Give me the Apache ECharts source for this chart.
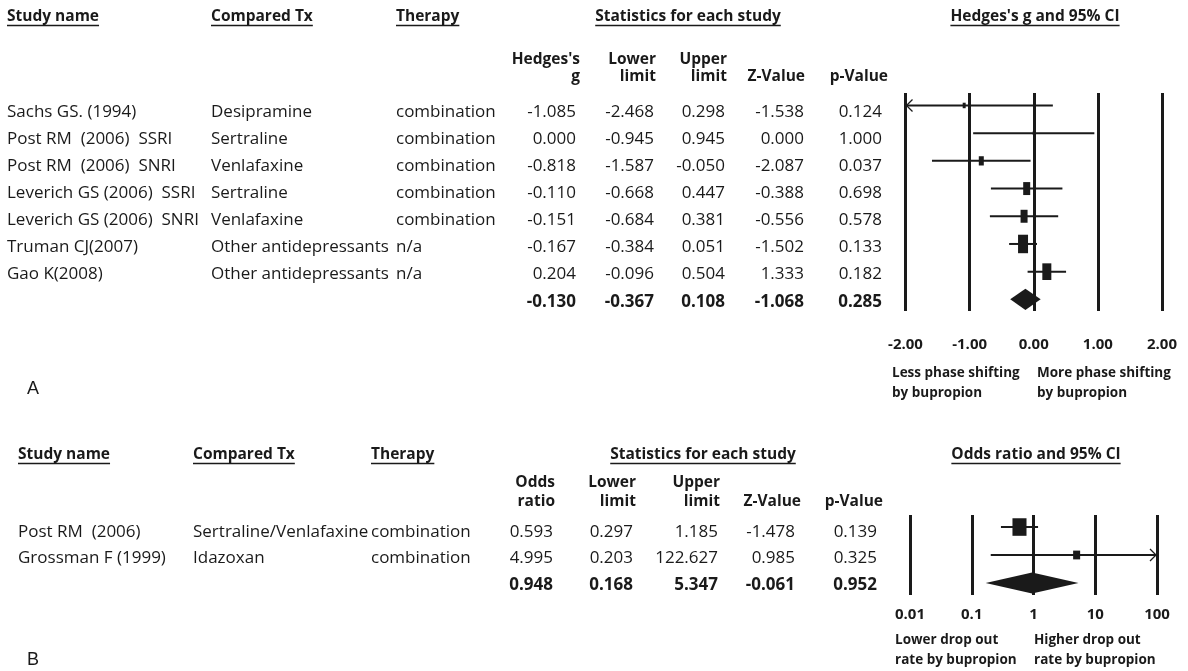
<!DOCTYPE html>
<html>
<head>
<meta charset="utf-8">
<script src="https://cdn.jsdelivr.net/npm/echarts@6/dist/echarts.min.js"></script>
<style>
  html, body { margin: 0; padding: 0; background: #fff; }
  #chart { width: 1188px; height: 671px; }
</style>
</head>
<body>
<div id="chart"></div>
<script>
// ---------- Panel A: phase shifting, Hedges's g ----------
const studiesA = ['Sachs GS. (1994)', 'Post RM  (2006)  SSRI', 'Post RM  (2006)  SNRI',
  'Leverich GS (2006)  SSRI', 'Leverich GS (2006)  SNRI', 'Truman CJ(2007)', 'Gao K(2008)'];
const comparedA = ['Desipramine', 'Sertraline', 'Venlafaxine', 'Sertraline', 'Venlafaxine',
  'Other antidepressants', 'Other antidepressants'];
const therapyA = ['combination', 'combination', 'combination', 'combination', 'combination', 'n/a', 'n/a'];
const hedgesA = [-1.085, 0.000, -0.818, -0.110, -0.151, -0.167, 0.204];
const lowerA = [-2.468, -0.945, -1.587, -0.668, -0.684, -0.384, -0.096];
const upperA = [0.298, 0.945, -0.050, 0.447, 0.381, 0.051, 0.504];
const zValueA = [-1.538, 0.000, -2.087, -0.388, -0.556, -1.502, 1.333];
const pValueA = [0.124, 1.000, 0.037, 0.698, 0.578, 0.133, 0.182];
const weightA = [2.8, 1.3, 7.9, 15.5, 15.5, 31.5, 25.6];       // relative weight, %
const summaryA = [-0.130, -0.367, 0.108, -1.068, 0.285];        // g, lower, upper, Z, p
const ticksA = ['-2.00', '-1.00', '0.00', '1.00', '2.00'];

// ---------- Panel B: drop out, odds ratio ----------
const studiesB = ['Post RM  (2006)', 'Grossman F (1999)'];
const comparedB = ['Sertraline/Venlafaxine', 'Idazoxan'];
const therapyB = ['combination', 'combination'];
const oddsB = [0.593, 4.995];
const lowerB = [0.297, 0.203];
const upperB = [1.185, 122.627];
const zValueB = [-1.478, 0.985];
const pValueB = [0.139, 0.325];
const weightB = [80, 20];                                       // relative weight, %
const summaryB = [0.948, 0.168, 5.347, -0.061, 0.952];          // OR, lower, upper, Z, p
const ticksB = ['0.01', '0.1', '1', '10', '100'];

const FAMILY = '"Open Sans", "Noto Sans", sans-serif';
const INK = '#1a1a1a';
const fmt3 = v => v.toFixed(3);

const measureCtx = document.createElement('canvas').getContext('2d');
function textWidth(str, font) { measureCtx.font = font; return measureCtx.measureText(str).width; }

// ---------- table text drawn on a flat (pixel-unit) x axis, rows on y ----------
function tableSeries(cells, gridIdx) {
  return {
    type: 'custom', xAxisIndex: gridIdx, yAxisIndex: gridIdx, silent: true, clip: false,
    data: cells.map(c => [c.x, c.row]),
    renderItem(params, api) {
      const c = cells[params.dataIndex];
      const p = api.coord([api.value(0), api.value(1)]);
      return {
        type: 'text', x: p[0], y: p[1],
        style: {
          text: c.text, fill: INK, align: c.align, textAlign: c.align,
          verticalAlign: 'middle', textVerticalAlign: 'middle',
          font: (c.bold ? 'bold ' : '') + '17px ' + FAMILY
        }
      };
    }
  };
}

function buildCells(cols, rows, summary) {
  const cells = [];
  rows.forEach((r, i) => {
    cols.forEach((col, j) => cells.push({ x: col.x, row: i, text: r[j], align: col.align, bold: false }));
  });
  summary.forEach((v, j) => {
    const col = cols[3 + j];
    cells.push({ x: col.x, row: rows.length, text: fmt3(v), align: col.align, bold: true });
  });
  return cells;
}

const colsA = [
  { x: 7, align: 'left' }, { x: 211, align: 'left' }, { x: 396, align: 'left' },
  { x: 576, align: 'right' }, { x: 654, align: 'right' }, { x: 725, align: 'right' },
  { x: 804, align: 'right' }, { x: 882, align: 'right' }
];
const colsB = [
  { x: 18, align: 'left' }, { x: 193, align: 'left' }, { x: 371, align: 'left' },
  { x: 553, align: 'right' }, { x: 633, align: 'right' }, { x: 718, align: 'right' },
  { x: 795, align: 'right' }, { x: 877, align: 'right' }
];
const rowsA = studiesA.map((s, i) => [s, comparedA[i], therapyA[i], fmt3(hedgesA[i]),
  fmt3(lowerA[i]), fmt3(upperA[i]), fmt3(zValueA[i]), fmt3(pValueA[i])]);
const rowsB = studiesB.map((s, i) => [s, comparedB[i], therapyB[i], fmt3(oddsB[i]),
  fmt3(lowerB[i]), fmt3(upperB[i]), fmt3(zValueB[i]), fmt3(pValueB[i])]);

// ---------- forest marks: CI line, weighted box, arrow when the CI runs off the scale ----------
function forestSeries(est, lo, hi, weight, axisMin, axisMax, boxScale, boxAspect, gridIdx) {
  return {
    type: 'custom', xAxisIndex: gridIdx, yAxisIndex: gridIdx, silent: true, clip: false,
    data: est.map((e, i) => [e, lo[i], hi[i], i, weight[i]]),
    encode: { x: [0, 1, 2], y: 3 },
    renderItem(params, api) {
      const e = api.value(0), l = api.value(1), h = api.value(2), r = api.value(3), w = api.value(4);
      const a = api.coord([Math.max(l, axisMin), r]);
      const b = api.coord([Math.min(h, axisMax), r]);
      const m = api.coord([e, r]);
      const bw = boxScale * Math.sqrt(w), bh = bw * boxAspect;
      const children = [
        { type: 'line', shape: { x1: a[0], y1: a[1], x2: b[0], y2: b[1] }, style: { stroke: INK, lineWidth: 2 } },
        { type: 'rect', shape: { x: m[0] - bw / 2, y: m[1] - bh / 2, width: bw, height: bh }, style: { fill: INK } }
      ];
      if (l < axisMin) {
        children.push({ type: 'polyline', shape: { points: [[a[0] + 7, a[1] - 6], [a[0] + 1, a[1]], [a[0] + 7, a[1] + 6]] },
          style: { stroke: INK, lineWidth: 1.3, fill: null } });
      }
      if (h > axisMax) {
        children.push({ type: 'polyline', shape: { points: [[b[0] - 7, b[1] - 6], [b[0] - 1, b[1]], [b[0] - 7, b[1] + 6]] },
          style: { stroke: INK, lineWidth: 1.3, fill: null } });
      }
      return { type: 'group', children };
    }
  };
}

function diamondSeries(summary, row, halfHeight, gridIdx) {
  return {
    type: 'custom', xAxisIndex: gridIdx, yAxisIndex: gridIdx, silent: true, clip: false,
    data: [[summary[0], summary[1], summary[2], row]],
    encode: { x: [0, 1, 2], y: 3 },
    renderItem(params, api) {
      const r = api.value(3);
      const c = api.coord([api.value(0), r]);
      const l = api.coord([api.value(1), r]);
      const h = api.coord([api.value(2), r]);
      return {
        type: 'polygon',
        shape: { points: [[l[0], c[1]], [c[0], c[1] - halfHeight], [h[0], c[1]], [c[0], c[1] + halfHeight]] },
        style: { fill: INK }
      };
    }
  };
}

// ---------- headers, notes, panel letters ----------
const graphics = [];
function addText(text, x, y, align, size, weight, underline, family) {
  const font = (weight ? weight + ' ' : '') + size + 'px ' + (family || FAMILY);
  graphics.push({
    type: 'text', x, y, silent: true,
    style: { text, font, fill: INK, align, textAlign: align, verticalAlign: 'middle', textVerticalAlign: 'middle' }
  });
  if (underline) {
    const w = textWidth(text, font);
    const left = align === 'left' ? x : align === 'center' ? x - w / 2 : x - w;
    graphics.push({ type: 'line', silent: true, shape: { x1: left, y1: y + 8.5, x2: left + w, y2: y + 8.5 },
      style: { stroke: INK, lineWidth: 1.5 } });
  }
}

const HEAD = 15.5, NOTE = 13.5;
// Panel A headings
addText('Study name', 7, 17, 'left', HEAD, 'bold', true);
addText('Compared Tx', 211, 17, 'left', HEAD, 'bold', true);
addText('Therapy', 396, 17, 'left', HEAD, 'bold', true);
addText('Statistics for each study', 688, 17, 'center', HEAD, 'bold', true);
addText("Hedges's g and 95% CI", 1035, 17, 'center', HEAD, 'bold', true);
const subHeadA = [["Hedges's", 'g', 580], ['Lower', 'limit', 656], ['Upper', 'limit', 727], ['', 'Z-Value', 805], ['', 'p-Value', 888]];
subHeadA.forEach(([t1, t2, x]) => {
  if (t1) addText(t1, x, 60, 'right', HEAD, 'bold');
  addText(t2, x, 77, 'right', HEAD, 'bold');
});
addText('Less phase shifting', 892, 373, 'left', NOTE, 'bold');
addText('by bupropion', 892, 393, 'left', NOTE, 'bold');
addText('More phase shifting', 1037, 373, 'left', NOTE, 'bold');
addText('by bupropion', 1037, 393, 'left', NOTE, 'bold');
addText('A', 27, 389, 'left', 18, '', false, '"Liberation Sans", Arial, sans-serif');

// Panel B headings
addText('Study name', 18, 455, 'left', HEAD, 'bold', true);
addText('Compared Tx', 193, 455, 'left', HEAD, 'bold', true);
addText('Therapy', 371, 455, 'left', HEAD, 'bold', true);
addText('Statistics for each study', 703, 455, 'center', HEAD, 'bold', true);
addText('Odds ratio and 95% CI', 1036, 455, 'center', HEAD, 'bold', true);
const subHeadB = [['Odds', 'ratio', 555], ['Lower', 'limit', 636], ['Upper', 'limit', 720], ['', 'Z-Value', 801], ['', 'p-Value', 883]];
subHeadB.forEach(([t1, t2, x]) => {
  if (t1) addText(t1, x, 483, 'right', HEAD, 'bold');
  addText(t2, x, 502, 'right', HEAD, 'bold');
});
addText('Lower drop out', 895, 640, 'left', NOTE, 'bold');
addText('rate by bupropion', 895, 660, 'left', NOTE, 'bold');
addText('Higher drop out', 1034, 640, 'left', NOTE, 'bold');
addText('rate by bupropion', 1034, 660, 'left', NOTE, 'bold');
addText('B', 27, 660, 'left', 18, '', false, '"Liberation Sans", Arial, sans-serif');

// ---------- axes ----------
const refLines = { show: true, lineStyle: { color: INK, width: 3 } };
const tickLabel = { fontFamily: FAMILY, fontWeight: 'bold', fontSize: 15, color: INK,
  showMinLabel: true, showMaxLabel: true, hideOverlap: false };
const hiddenAxis = { show: false, splitLine: { show: false } };

const option = {
  animation: false,
  backgroundColor: '#fff',
  grid: [
    { left: 905.5, top: 93, width: 256.5, height: 218 },   // A forest
    { left: 0, top: 111.7, width: 1188, height: 190 },     // A table
    { left: 910, top: 515, width: 247, height: 80 },       // B forest
    { left: 0, top: 532, width: 1188, height: 53 }         // B table
  ],
  xAxis: [
    { gridIndex: 0, type: 'value', min: -2, max: 2, interval: 1,
      axisLine: { show: false }, axisTick: { show: false }, splitLine: refLines,
      axisLabel: Object.assign({ margin: 26, formatter: v => ticksA[Math.round(v + 2)] }, tickLabel) },
    Object.assign({ gridIndex: 1, type: 'value', min: 0, max: 1188 }, hiddenAxis),
    { gridIndex: 2, type: 'log', logBase: 10, min: 0.01, max: 100, splitNumber: 4,
      axisLine: { show: false }, axisTick: { show: false }, splitLine: refLines,
      axisLabel: Object.assign({ margin: 12, formatter: v => ticksB[Math.round(Math.log10(v) + 2)] }, tickLabel) },
    Object.assign({ gridIndex: 3, type: 'value', min: 0, max: 1188 }, hiddenAxis)
  ],
  yAxis: [
    Object.assign({ gridIndex: 0, type: 'value', min: -0.45, max: 7.42, inverse: true }, hiddenAxis),
    Object.assign({ gridIndex: 1, type: 'value', min: 0, max: 7, inverse: true }, hiddenAxis),
    Object.assign({ gridIndex: 2, type: 'value', min: -0.43, max: 2.43, inverse: true }, hiddenAxis),
    Object.assign({ gridIndex: 3, type: 'value', min: 0, max: 2, inverse: true }, hiddenAxis)
  ],
  graphic: { elements: graphics },
  series: [
    forestSeries(hedgesA, lowerA, upperA, weightA, -2, 2, 1.78, 1.85, 0),
    diamondSeries(summaryA, studiesA.length, 10.7, 0),
    tableSeries(buildCells(colsA, rowsA, summaryA), 1),
    forestSeries(oddsB, lowerB, upperB, weightB, 0.01, 100, 1.57, 1.25, 2),
    diamondSeries(summaryB, studiesB.length, 10.5, 2),
    tableSeries(buildCells(colsB, rowsB, summaryB), 3)
  ]
};

const chart = echarts.init(document.getElementById('chart'), null, { renderer: 'canvas' });
chart.setOption(option);
</script>
</body>
</html>
